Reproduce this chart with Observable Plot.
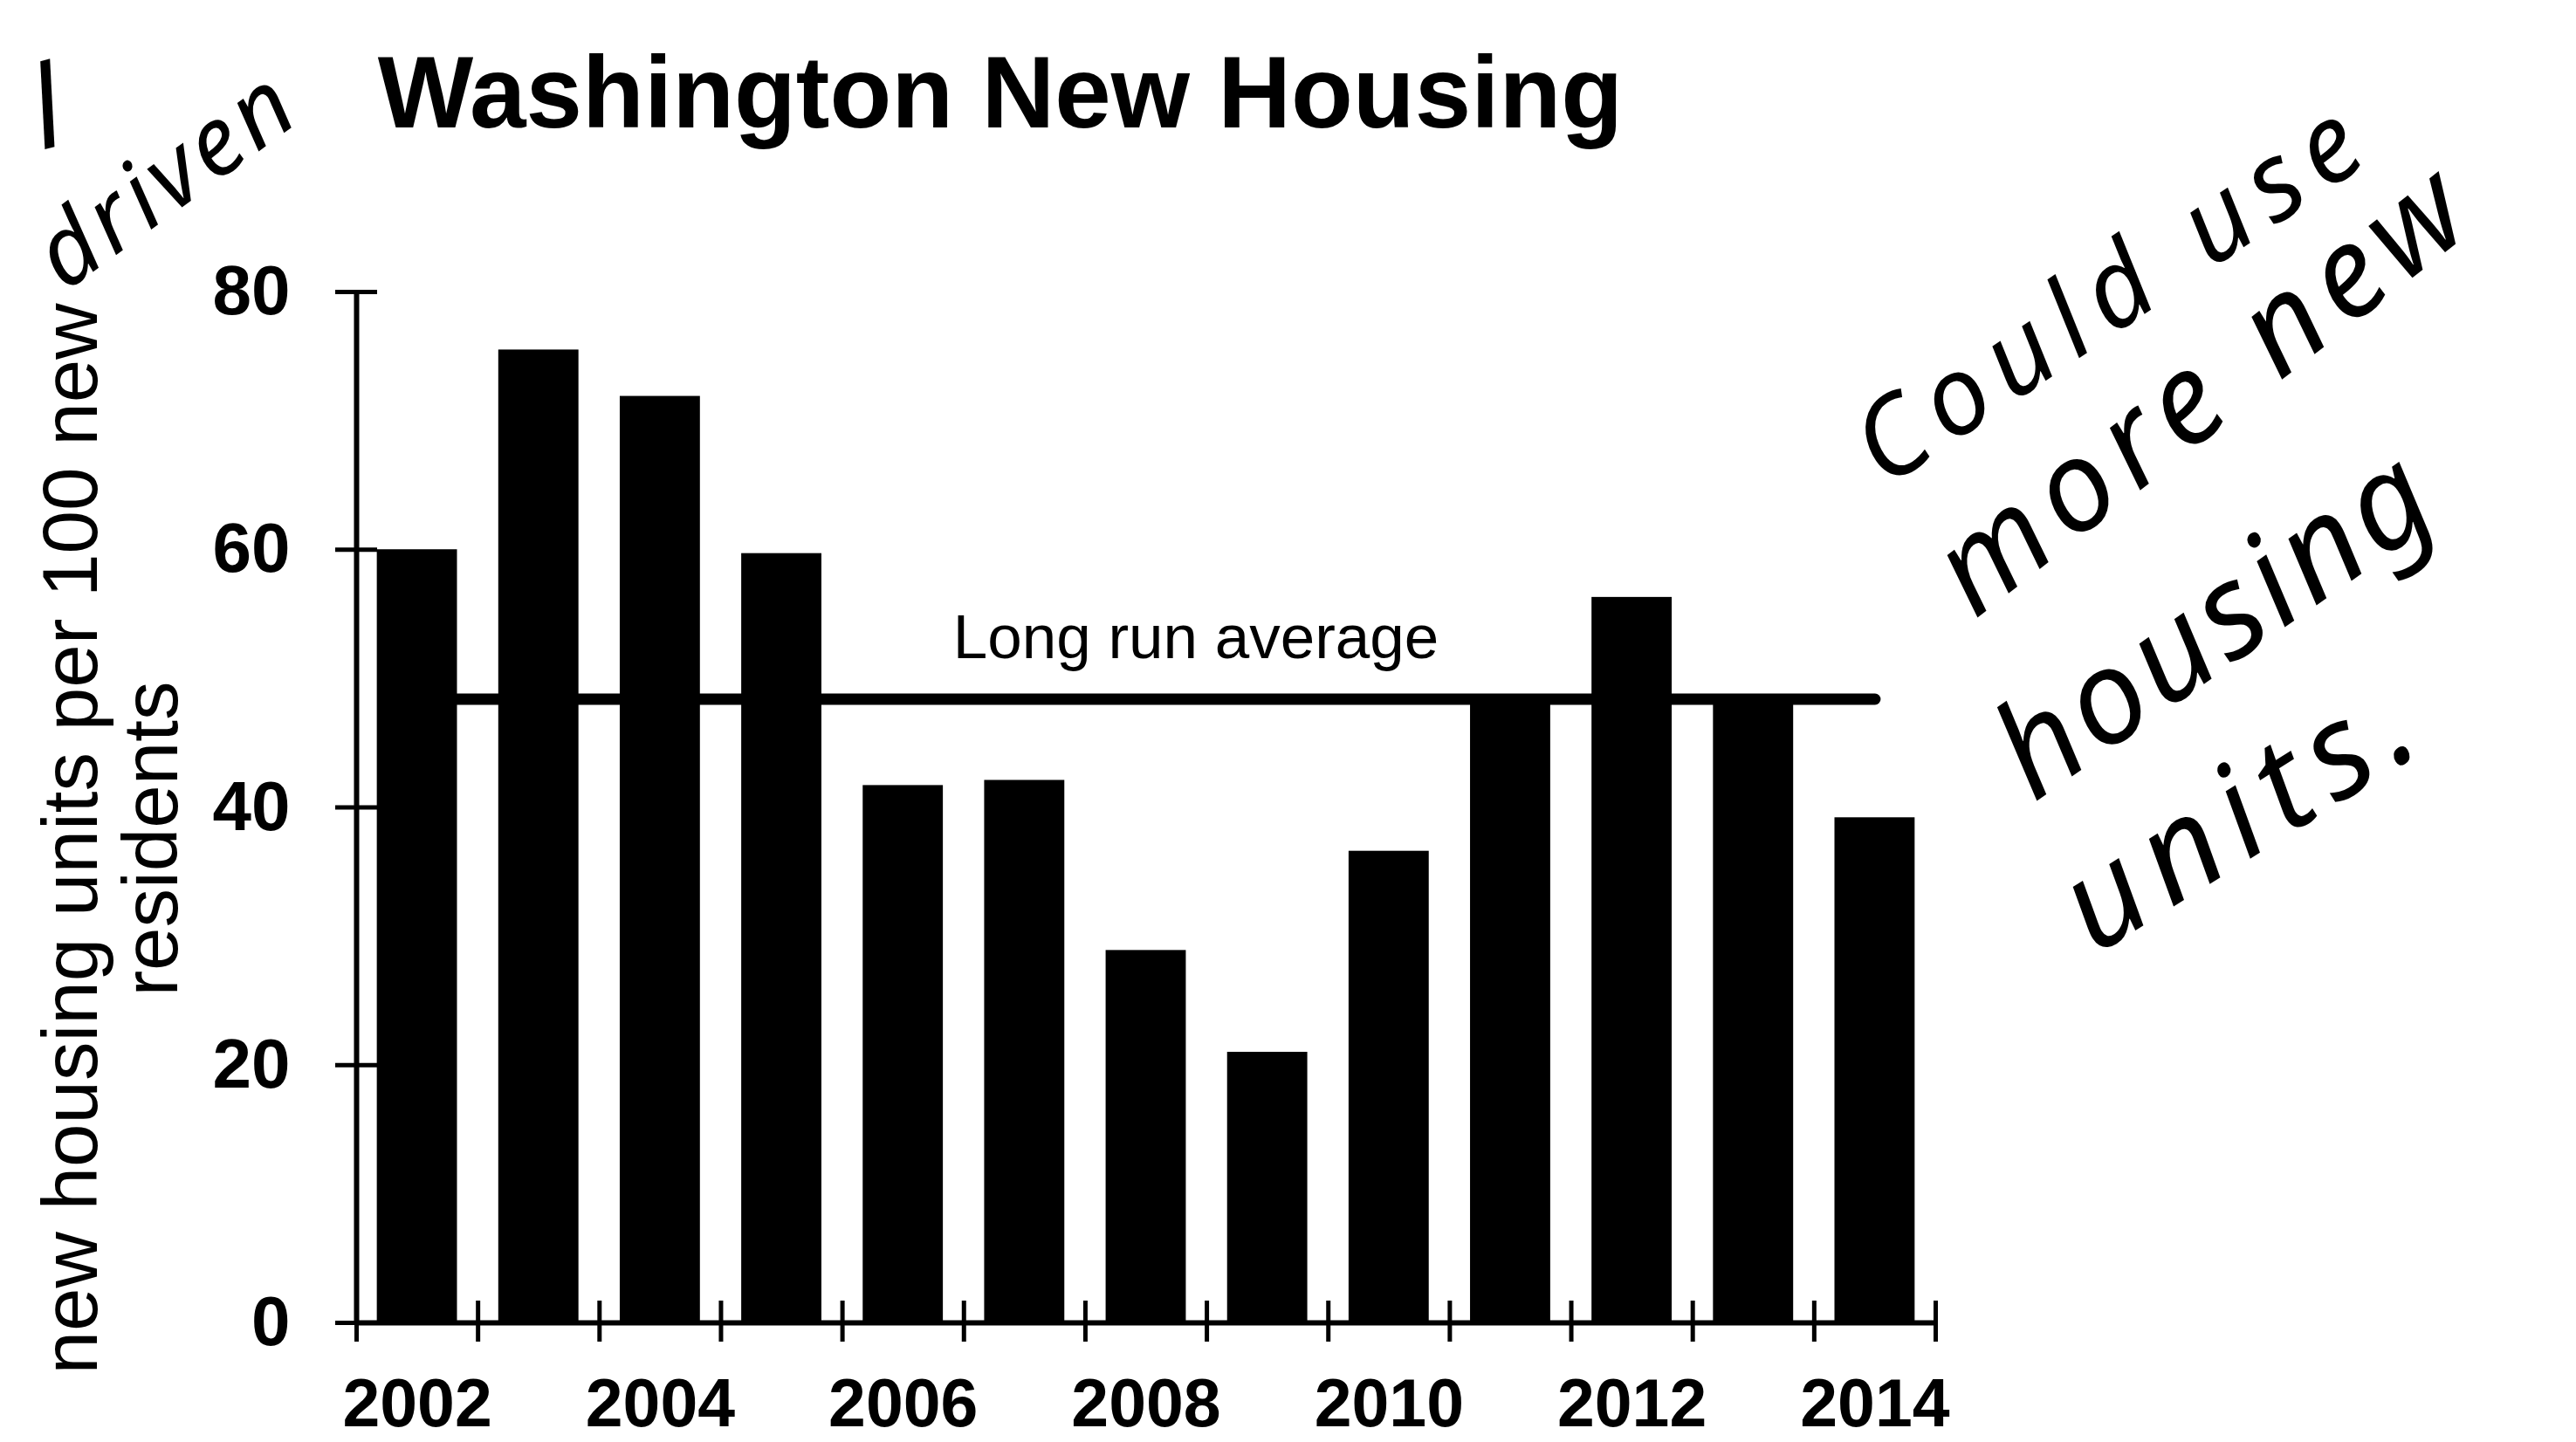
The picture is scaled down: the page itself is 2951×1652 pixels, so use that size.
<!DOCTYPE html>
<html>
<head>
<meta charset="utf-8">
<script src="https://cdn.jsdelivr.net/npm/d3@7"></script>
<script src="https://cdn.jsdelivr.net/npm/@observablehq/plot@0.6"></script>
<style>
  html, body { margin: 0; padding: 0; background: #fff; }
  #page { position: relative; width: 2951px; height: 1652px; overflow: hidden; background: #fff;
          font-family: "Liberation Sans", Arial, sans-serif; color: #000; }
  #title { position: absolute; left: 0; top: 34px; width: 2292px; text-align: center;
           font-size: 116px; line-height: 1.25; font-weight: bold; white-space: nowrap; }
  #chart { position: absolute; left: 0; top: 200px; }
  .hand { position: absolute; font-family: "Noto Sans", sans-serif; font-style: italic; font-weight: 400;
          line-height: 1.4; white-space: nowrap; color: #000; }
  #chart svg g[aria-label="x-axis tick label"], #chart svg g[aria-label="y-axis tick label"] { font-weight: bold; }
</style>
</head>
<body>
<div id="page">
  <div id="title"></div>
  <div id="chart"></div>
</div>
<script>
// ---- data ----
const title = "Washington New Housing";
const years = [2002, 2003, 2004, 2005, 2006, 2007, 2008, 2009, 2010, 2011, 2012, 2013, 2014];
const values = [60.0, 75.5, 71.9, 59.7, 41.7, 42.1, 28.9, 21.0, 36.6, 48.0, 56.3, 48.0, 39.2];
const longRunAverage = 48.4;
const avgLabel = "Long run average";
const yTicks = [0, 20, 40, 60, 80];
const xLabelYears = [2002, 2004, 2006, 2008, 2010, 2012, 2014];
const yTitle = "new housing units per 100 new\nresidents";
const notes = ["Could use", "more new", "housing", "units."];
const sideNotes = ["l", "driven"];

// ---- layout ----
const W = 2951, H = 1452;
const mL = 408, mR = 734, mT = 134, mB = 137;
const frameW = W - mL - mR, frameH = H - mT - mB;
const halfBar = 0.33;

const data = years.map((year, i) => ({year, value: values[i]}));
const bounds = d3.range(years.length + 1).map(i => years[0] - 0.5 + i);

document.getElementById("title").textContent = title;

const chart = Plot.plot({
  width: W, height: H,
  marginLeft: mL, marginRight: mR, marginTop: mT, marginBottom: mB,
  style: {fontFamily: "Liberation Sans, Arial, sans-serif", color: "#000", background: "transparent", overflow: "visible"},
  x: {type: "linear", domain: [bounds[0], bounds[bounds.length - 1]], label: null},
  y: {domain: [0, 80], label: null},
  marks: [
    Plot.rectY(data, {x1: d => d.year - halfBar, x2: d => d.year + halfBar, y1: 0, y2: "value", fill: "#000"}),
    Plot.lineY(years, {x: d => d, y: () => longRunAverage, stroke: "#000", strokeWidth: 13}),
    Plot.text([avgLabel], {x: () => d3.mean(years), y: () => longRunAverage, text: d => d,
      dx: 57, dy: -47, lineAnchor: "bottom", textAnchor: "middle", fontSize: 71, fill: "#000"}),
    Plot.ruleX([bounds[0]], {y1: 0, y2: 80, stroke: "#000", strokeWidth: 6}),
    Plot.ruleY([0], {x1: bounds[0], x2: bounds[bounds.length - 1], stroke: "#000", strokeWidth: 6}),
    Plot.tickX(bounds, {x: d => d, insetTop: frameH - 25, insetBottom: -22, stroke: "#000", strokeWidth: 5}),
    Plot.tickY(yTicks, {y: d => d, insetLeft: -24, insetRight: frameW - 24, stroke: "#000", strokeWidth: 5}),
    Plot.axisY(yTicks, {tickSize: 0, tickPadding: 76, fontSize: 80, fontWeight: "bold", fill: "#000"}),
    Plot.axisX(xLabelYears, {tickSize: 0, tickPadding: 64, fontSize: 77, fontWeight: "bold", fill: "#000",
      tickFormat: d => String(d)}),
    Plot.text([yTitle], {frameAnchor: "left", text: d => d, rotate: -90, dx: -281, dy: 36,
      fontSize: 89, lineHeight: 1.035, textAnchor: "middle", lineAnchor: "middle", fill: "#000"})
  ]
});
document.getElementById("chart").appendChild(chart);

// ---- handwritten annotations (text) ----
const notePos = [
  {x: 2160, y: 560, a: -34, ls: 16, fs: 125},
  {x: 2262, y: 710, a: -38, ls: 14, fs: 145},
  {x: 2330, y: 920, a: -35, ls: 6, fs: 150},
  {x: 2400, y: 1095, a: -32, ls: 16, fs: 150}
];
const sidePos = [
  {x: 48, y: 172, a: -15, ls: 0, fs: 130},
  {x: 74, y: 335, a: -36, ls: 6, fs: 110}
];
function addHand(text, p) {
  const el = document.createElement("div");
  el.className = "hand";
  el.textContent = text;
  // baseline offset inside a line box of line-height 1.4 (Noto Sans ascent 1.069, descent 0.293)
  const base = p.fs * ((1.4 - 1.362) / 2 + 1.069);
  el.style.fontSize = p.fs + "px";
  el.style.left = p.x + "px";
  el.style.top = (p.y - base) + "px";
  el.style.letterSpacing = p.ls + "px";
  el.style.transformOrigin = `0 ${base}px`;
  el.style.transform = `rotate(${p.a}deg)`;
  document.getElementById("page").appendChild(el);
}
notes.forEach((t, i) => addHand(t, notePos[i]));
sideNotes.forEach((t, i) => addHand(t, sidePos[i]));
</script>
</body>
</html>
